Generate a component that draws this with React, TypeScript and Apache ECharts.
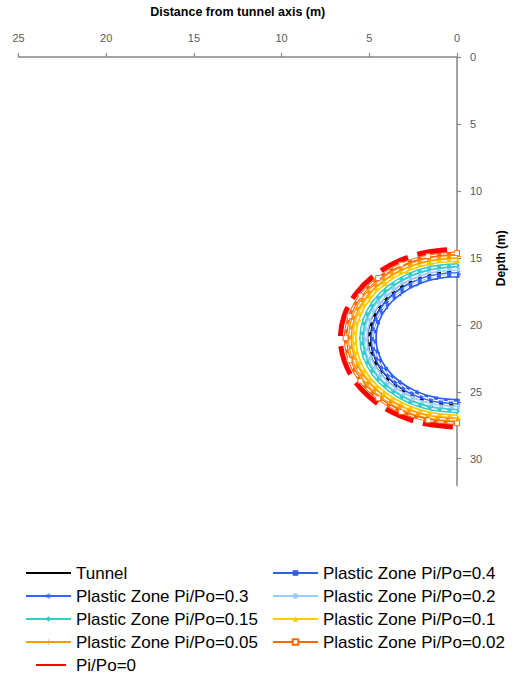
import { useEffect, useRef } from "react";
import * as echarts from "echarts";

// Axis tick values (m)
const xTicks = [0, 5, 10, 15, 20, 25];
const yTicks = [0, 5, 10, 15, 20, 25, 30];

// Boundaries as [distance from tunnel axis (m), depth (m)]
const tunnel = [
  [0, 16.0], [1.29, 16.17], [2.5, 16.67], [3.54, 17.46], [4.33, 18.5], [4.83, 19.71], [5.0, 21.0],
  [4.83, 22.29], [4.33, 23.5], [3.54, 24.54], [2.5, 25.33], [1.29, 25.83], [0, 26.0],
];
const zone040 = [
  [0, 16.3], [1.22, 16.46], [2.35, 16.93], [3.32, 17.68], [4.07, 18.65], [4.54, 19.78], [4.7, 21.0],
  [4.54, 22.22], [4.07, 23.35], [3.32, 24.32], [2.35, 25.07], [1.22, 25.54], [0, 25.7],
];
const zone030 = [
  [0, 16.2], [1.24, 16.36], [2.4, 16.84], [3.39, 17.61], [4.16, 18.6], [4.64, 19.76], [4.8, 21.0],
  [4.64, 22.24], [4.16, 23.4], [3.39, 24.39], [2.4, 25.16], [1.24, 25.64], [0, 25.8],
];
const zone020 = [
  [0, 15.8], [1.35, 15.98], [2.6, 16.5], [3.68, 17.32], [4.5, 18.4], [5.02, 19.65], [5.2, 21.0],
  [5.02, 22.35], [4.5, 23.6], [3.68, 24.68], [2.6, 25.5], [1.35, 26.02], [0, 26.2],
];
const zone015 = [
  [0, 15.55], [1.41, 15.74], [2.73, 16.28], [3.85, 17.15], [4.72, 18.28], [5.26, 19.59], [5.45, 21.0],
  [5.26, 22.41], [4.72, 23.73], [3.85, 24.85], [2.73, 25.72], [1.41, 26.26], [0, 26.45],
];
const zone010 = [
  [0, 15.15], [1.51, 15.35], [2.93, 15.93], [4.14, 16.86], [5.07, 18.08], [5.65, 19.49], [5.85, 21.0],
  [5.65, 22.51], [5.07, 23.93], [4.14, 25.14], [2.93, 26.07], [1.51, 26.65], [0, 26.85],
];
const zone005 = [
  [0, 14.9], [1.58, 15.11], [3.05, 15.72], [4.31, 16.69], [5.28, 17.95], [5.89, 19.42], [6.1, 21.0],
  [5.89, 22.58], [5.28, 24.05], [4.31, 25.31], [3.05, 26.28], [1.58, 26.89], [0, 27.1],
];
const zone002 = [
  [0, 14.65], [1.64, 14.87], [3.18, 15.5], [4.49, 16.51], [5.5, 17.83], [6.13, 19.36], [6.35, 21.0],
  [6.13, 22.64], [5.5, 24.18], [4.49, 25.49], [3.18, 26.5], [1.64, 27.13], [0, 27.35],
];
const zone000 = [
  [0, 14.35], [1.72, 14.58], [3.33, 15.24], [4.7, 16.3], [5.76, 17.68], [6.42, 19.28], [6.65, 21.0],
  [6.42, 22.72], [5.76, 24.33], [4.7, 25.7], [3.33, 26.76], [1.72, 27.42], [0, 27.65],
];

const FONT = "'Liberation Sans', Arial, sans-serif";

const ASTERISK =
  "path://M4.4 0h1.2v10h-1.2z M0 4.4h10v1.2h-10z M1.1 1.95l0.85-0.85 6.95 6.95-0.85 0.85z M8.05 1.1l0.85 0.85-6.95 6.95-0.85-0.85z";
const PLUS = "path://M4.4 0h1.2v10h-1.2z M0 4.4h10v1.2h-10z";

type Curve = {
  name: string;
  data: number[][];
  color: string;
  width: number;
  symbol: string;
  size: number;
  dash?: number[];
  stripe: boolean;
  fill?: string;
};

const curves: Curve[] = [
  { name: "Tunnel", data: tunnel, color: "#000000", width: 4, symbol: "none", size: 0, stripe: true },
  { name: "Plastic Zone Pi/Po=0.4", data: zone040, color: "#2f5fe8", width: 4.5, symbol: "rect", size: 5, stripe: true },
  { name: "Plastic Zone Pi/Po=0.3", data: zone030, color: "#3366ff", width: 4.5, symbol: ASTERISK, size: 8, stripe: true },
  { name: "Plastic Zone Pi/Po=0.2", data: zone020, color: "#99ccff", width: 4.5, symbol: "circle", size: 6, stripe: true },
  { name: "Plastic Zone Pi/Po=0.15", data: zone015, color: "#33cccc", width: 4.5, symbol: "diamond", size: 6, stripe: true },
  { name: "Plastic Zone Pi/Po=0.1", data: zone010, color: "#ffcc00", width: 4.5, symbol: "triangle", size: 7, stripe: true },
  { name: "Plastic Zone Pi/Po=0.05", data: zone005, color: "#ff9900", width: 4, symbol: PLUS, size: 8, stripe: true },
  { name: "Plastic Zone Pi/Po=0.02", data: zone002, color: "#ff6600", width: 3.5, symbol: "rect", size: 5, stripe: true, fill: "#ffffff" },
  { name: "Pi/Po=0", data: zone000, color: "#ff0000", width: 5, symbol: "none", size: 0, dash: [30, 10], stripe: false },
];

const leftColumn = ["Tunnel", "Plastic Zone Pi/Po=0.3", "Plastic Zone Pi/Po=0.15", "Plastic Zone Pi/Po=0.05", "Pi/Po=0"];
const rightColumn = ["Plastic Zone Pi/Po=0.4", "Plastic Zone Pi/Po=0.2", "Plastic Zone Pi/Po=0.1", "Plastic Zone Pi/Po=0.02"];

// lines drawn without markers keep a plain line in the legend
const legendItem = (name: string) => {
  const c = curves.find((k) => k.name === name);
  return c && c.symbol === "none" ? { name, itemStyle: { opacity: 0 } } : { name };
};

export default function App() {
  const ref = useRef<HTMLDivElement>(null);

  useEffect(() => {
    if (!ref.current) return;
    const chart = echarts.init(ref.current, null, { renderer: "svg" });

    const mainSeries = curves.map((c) => ({
      type: "line",
      name: c.name,
      data: c.data,
      smooth: 0.35,
      symbol: c.symbol,
      symbolSize: c.size,
      showSymbol: c.symbol !== "none",
      itemStyle: c.fill
        ? { color: c.fill, borderColor: c.color, borderWidth: 1 }
        : { color: c.color },
      lineStyle: { color: c.color, width: c.width, type: c.dash ?? "solid", dashOffset: c.dash ? 30 : 0 },
      emphasis: { disabled: true },
      z: 2,
    }));

    // thin white dashes running along the centre of the coloured bands
    const stripeSeries = curves
      .filter((c) => c.stripe)
      .map((c) => ({
        type: "line",
        data: c.data,
        smooth: 0.35,
        symbol: "none",
        silent: true,
        lineStyle: { color: "#ffffff", width: 1.3, type: [6, 4] },
        emphasis: { disabled: true },
        z: 3,
      }));

    const legendBase = {
      orient: "vertical",
      top: 564.5,
      height: 120,
      padding: 0,
      itemWidth: 45,
      itemHeight: 7,
      itemGap: 6,
      textStyle: { fontFamily: FONT, fontSize: 17, color: "#000000", lineHeight: 17 },
    };

    chart.setOption({
      animation: false,
      backgroundColor: "#ffffff",
      grid: { left: 18.5, right: 56, top: 55, bottom: 188.5, containLabel: false },
      xAxis: {
        type: "value",
        position: "top",
        inverse: true,
        min: 0,
        max: 25,
        interval: 5,
        name: "Distance from tunnel axis (m)",
        nameLocation: "middle",
        nameGap: 39,
        nameTextStyle: { fontFamily: FONT, fontSize: 12.5, fontWeight: "bold", color: "#000000" },
        axisLine: { lineStyle: { color: "#868686", width: 1.5 } },
        axisTick: { show: true, length: 4, lineStyle: { color: "#868686", width: 1.2 }, customValues: xTicks },
        axisLabel: { fontFamily: FONT, fontSize: 11, color: "#595959", margin: 14, customValues: xTicks },
        splitLine: { show: false },
      },
      yAxis: {
        type: "value",
        position: "right",
        inverse: true,
        min: 0,
        max: 32,
        interval: 5,
        name: "Depth (m)",
        nameLocation: "middle",
        nameGap: 38,
        nameTextStyle: {
          fontFamily: FONT,
          fontSize: 12,
          fontWeight: "bold",
          color: "#000000",
          padding: [0, 0, 0, 26],
        },
        axisLine: { lineStyle: { color: "#868686", width: 1.5 } },
        axisTick: { show: true, length: 4, lineStyle: { color: "#868686", width: 1.2 }, customValues: yTicks },
        axisLabel: { fontFamily: FONT, fontSize: 11, color: "#595959", margin: 13, customValues: yTicks },
        splitLine: { show: false },
      },
      legend: [
        { ...legendBase, left: 25, data: leftColumn.map(legendItem) },
        { ...legendBase, left: 272, data: rightColumn.map(legendItem) },
      ],
      series: [...mainSeries, ...stripeSeries],
    });

    return () => chart.dispose();
  }, []);

  return (
    <div
      ref={ref}
      style={{ position: "absolute", left: 0, top: 0, width: 515, height: 674 }}
    />
  );
}
